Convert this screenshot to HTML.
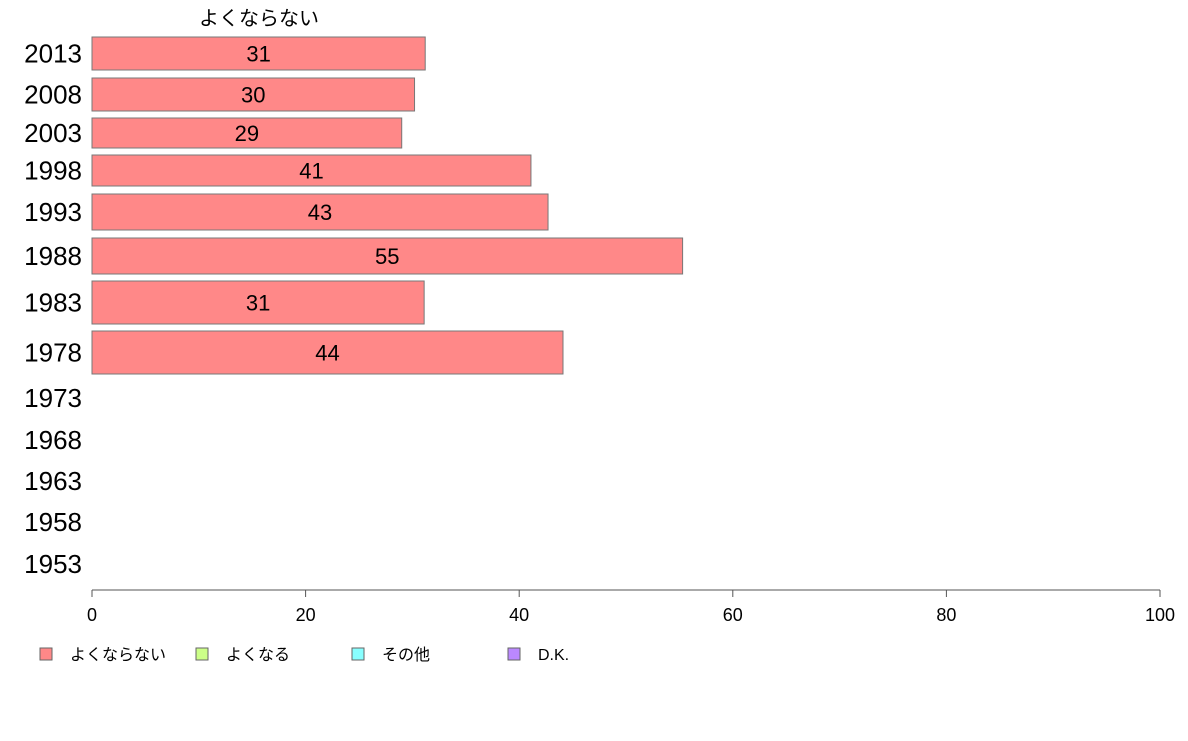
<!DOCTYPE html>
<html><head><meta charset="utf-8"><style>
body{margin:0;background:#fff;}
svg text{font-family:"Liberation Sans","Noto Sans CJK JP",sans-serif;}
</style></head><body>
<svg id="chart" width="1188" height="736">
<text x="259" y="25" font-size="20" text-anchor="middle" fill="#000">よくならない</text>
<g id="bars"></g>
<g id="axis"></g>
<g id="legend"></g>
</svg>
<script>
const categories=["2013","2008","2003","1998","1993","1988","1983","1978","1973","1968","1963","1958","1953"];
const values=[31.2,30.2,29.0,41.1,42.7,55.3,31.1,44.1,null,null,null,null,null];
const labels=["31","30","29","41","43","55","31","44","","","","",""];
const ticks=[0,20,40,60,80,100];
const legendNames=["よくならない","よくなる","その他","D.K."];
const legendColors=["#ff8888","#ccff88","#88ffff","#bb88ff"];
// layout (pixel bands per row, not data)
const bandTop=[37,78,118,155,194,238,281,331,380,422,463,504,546];
const bandBot=[70,111,148,186,230,274,324,374,416,458,499,540,582];
const NS="http://www.w3.org/2000/svg";
const x0=92,x1=1160;
function xs(v){return x0+(x1-x0)*v/100;}
const bars=document.getElementById('bars');
categories.forEach((c,i)=>{
  const mid=(bandTop[i]+bandBot[i])/2;
  const t=document.createElementNS(NS,'text');
  
  
  t.setAttribute('x',82);t.setAttribute('y',mid+9);t.setAttribute('font-size','26');t.setAttribute('text-anchor','end');
  t.textContent=c;bars.appendChild(t);
  if(values[i]!=null){
    const r=document.createElementNS(NS,'rect');
    
    
    r.setAttribute('x',x0);r.setAttribute('y',bandTop[i]);
    r.setAttribute('width',xs(values[i])-x0);r.setAttribute('height',bandBot[i]-bandTop[i]);
    r.setAttribute('fill','#ff8888');r.setAttribute('stroke','#777');r.setAttribute('stroke-width','1');
    bars.appendChild(r);
    const l=document.createElementNS(NS,'text');
    
    
    l.setAttribute('x',(x0+xs(values[i]))/2);l.setAttribute('y',mid+8);l.setAttribute('font-size','22');l.setAttribute('text-anchor','middle');
    l.textContent=labels[i];bars.appendChild(l);
  }
});
const ax=document.getElementById('axis');
const line=document.createElementNS(NS,'line');


line.setAttribute('x1',x0);line.setAttribute('x2',x1);line.setAttribute('y1',590);line.setAttribute('y2',590);line.setAttribute('stroke','#555');
ax.appendChild(line);
ticks.forEach(v=>{
  const tk=document.createElementNS(NS,'line');
  
  
  tk.setAttribute('x1',xs(v));tk.setAttribute('x2',xs(v));tk.setAttribute('y1',590);tk.setAttribute('y2',597);tk.setAttribute('stroke','#555');
  ax.appendChild(tk);
  const tl=document.createElementNS(NS,'text');
  
  
  tl.setAttribute('x',xs(v));tl.setAttribute('y',621);tl.setAttribute('font-size','18');tl.setAttribute('text-anchor','middle');
  tl.textContent=v;ax.appendChild(tl);
});
const lg=document.getElementById('legend');
legendNames.forEach((n,i)=>{
  const lx=40+i*156;
  const s=document.createElementNS(NS,'rect');
  
  
  s.setAttribute('x',lx);s.setAttribute('y',648);s.setAttribute('width',12);s.setAttribute('height',12);
  s.setAttribute('fill',legendColors[i]);s.setAttribute('stroke','#666');
  lg.appendChild(s);
  const t=document.createElementNS(NS,'text');
  
  
  t.setAttribute('x',lx+30);t.setAttribute('y',660);t.setAttribute('font-size','16');
  t.textContent=n;lg.appendChild(t);
});
</script>
</body></html>
